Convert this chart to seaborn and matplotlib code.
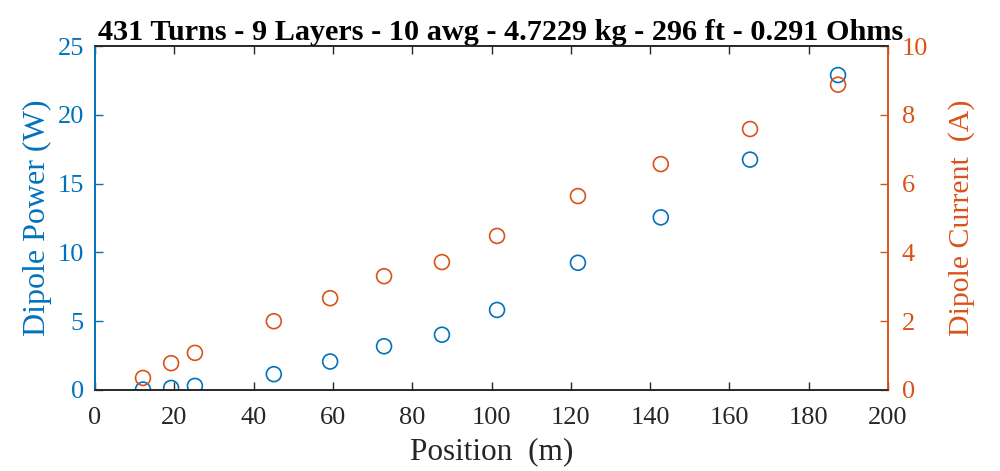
import numpy as np
import pandas as pd
import matplotlib
matplotlib.use("Agg")
import matplotlib.pyplot as plt
import seaborn as sns

position = [12.1, 19.2, 25.2, 45.1, 59.3, 72.9, 87.5, 101.4, 121.8, 142.7, 165.2, 187.4]
power = [0.03, 0.15, 0.3, 1.15, 2.07, 3.18, 4.02, 5.82, 9.25, 12.55, 16.75, 22.9]
current = [0.35, 0.78, 1.08, 2.0, 2.67, 3.31, 3.72, 4.48, 5.64, 6.57, 7.59, 8.88]
title = "431 Turns - 9 Layers - 10 awg - 4.7229 kg - 296 ft - 0.291 Ohms"
xticks = [0, 20, 40, 60, 80, 100, 120, 140, 160, 180, 200]
yticks_left = [0, 5, 10, 15, 20, 25]
yticks_right = [0, 2, 4, 6, 8, 10]

sns.set_style("white")
plt.rcParams['font.family'] = ['Liberation Serif', 'DejaVu Serif']

BLUE = "#0072BD"
ORANGE = "#D95319"
DARK = "#262626"

df = pd.DataFrame({"Position": position, "Power": power, "Current": current})

fig = plt.figure(figsize=(10, 4.71), dpi=100)
ax = fig.add_axes([0.095, 0.172, 0.793, 0.730])
ax2 = ax.twinx()

sns.scatterplot(data=df, x="Position", y="Power", ax=ax, marker="o", s=115,
                facecolor="none", edgecolor=BLUE, linewidth=1.2, legend=False)
sns.scatterplot(data=df, x="Position", y="Current", ax=ax2, marker="o", s=115,
                facecolor="none", edgecolor=ORANGE, linewidth=1.2, legend=False)

ax.set_xlim(0, 200)
ax.set_ylim(0, 25)
ax2.set_ylim(0, 10)
ax.set_xticks(xticks)
ax.set_yticks(yticks_left)
ax2.set_yticks(yticks_right)

ax.set_xlabel("Position  (m)", fontsize=22.5, color=DARK, labelpad=6)
ax.set_ylabel("Dipole Power (W)", fontsize=23, color=BLUE, labelpad=4)
ax2.set_ylabel("Dipole Current  (A)", fontsize=21.5, color=ORANGE, labelpad=14)
ax.set_title(title, fontsize=21.8, fontweight="bold", color="black", pad=3, x=0.511)

ax.tick_params(axis="x", direction="in", length=6, labelsize=19, colors=DARK, top=True, bottom=True, pad=12, width=1)
ax.tick_params(axis="y", direction="in", length=6, labelsize=19, colors=BLUE, left=True, right=False, pad=8, width=1)
ax2.tick_params(axis="y", direction="in", length=6, labelsize=19, colors=ORANGE, right=True, left=False, pad=10, width=1)

for a in (ax, ax2):
    for sp in a.spines.values():
        sp.set_visible(True)
        sp.set_linewidth(1.2)
    a.spines["top"].set_color(DARK)
    a.spines["bottom"].set_color(DARK)
    a.spines["left"].set_color(BLUE)
    a.spines["right"].set_color(ORANGE)
    a.grid(False)

fig.savefig("out.png", dpi=100)
